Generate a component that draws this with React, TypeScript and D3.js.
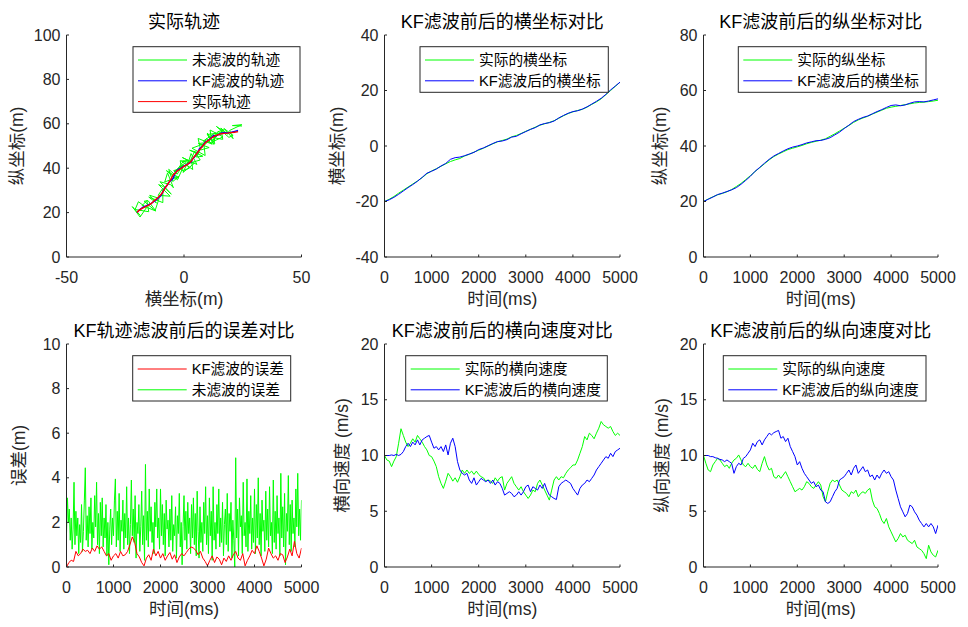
import React from 'react';
import * as d3 from 'd3';

// ---------------- data ----------------
const timeTicks = [0, 1000, 2000, 3000, 4000, 5000];

// positions sampled every 100 ms
const actualX = [-20, -19.2, -18.2, -17.0, -15.9, -14.8, -13.7, -12.6, -11.4, -10.0, -9.0, -8.2, -7.3, -6.4, -5.6, -5.0, -4.5, -3.6, -3.0, -2.2, -1.5, -0.8, 0.0, 0.8, 1.5, 2.0, 2.5, 3.3, 3.8, 4.5, 5.3, 6.0, 6.8, 7.5, 8.0, 8.5, 9.1, 10.0, 10.9, 11.7, 12.3, 12.8, 13.2, 14.0, 15.0, 15.9, 17.0, 18.5, 20.0, 21.5, 23.0];
const kfX = [-20, -19.4, -18.5, -17.4, -16.2, -15.0, -13.9, -12.7, -11.3, -9.8, -9.1, -8.3, -7.2, -6.3, -4.8, -4.2, -4.0, -3.5, -2.9, -2.3, -1.3, -0.7, 0.1, 0.9, 1.6, 1.8, 2.3, 3.2, 3.5, 4.4, 5.2, 6.0, 6.6, 7.6, 8.1, 8.4, 9.0, 10.1, 11.0, 11.8, 12.4, 12.7, 13.3, 14.1, 15.1, 16.1, 17.2, 18.6, 20.2, 21.6, 23.0];
const actualY = [20.0, 20.9, 21.7, 22.4, 22.9, 23.5, 24.3, 25.4, 26.5, 27.9, 29.3, 30.8, 32.2, 33.6, 35.0, 36.2, 37.1, 37.9, 38.7, 39.2, 39.7, 40.2, 40.8, 41.3, 41.7, 42.1, 42.6, 43.5, 44.4, 45.4, 46.4, 47.4, 48.5, 49.4, 50.1, 50.7, 51.5, 52.2, 52.9, 53.6, 54.0, 54.3, 54.6, 54.9, 55.2, 55.5, 55.7, 55.8, 56.0, 56.2, 56.5];
const kfY = [20.0, 20.8, 21.6, 22.5, 23.0, 23.6, 24.2, 25.0, 26.2, 27.6, 29.1, 30.9, 32.3, 33.8, 35.2, 36.4, 37.3, 38.2, 39.0, 39.6, 40.0, 40.5, 41.1, 41.5, 41.9, 42.0, 42.4, 43.0, 44.0, 45.0, 46.3, 47.5, 48.8, 49.6, 50.3, 50.8, 51.6, 52.4, 53.1, 53.9, 54.6, 54.8, 54.5, 54.8, 55.4, 55.9, 56.0, 55.9, 56.2, 56.6, 57.0];

// noisy measurements sampled every 50 ms
const measX = [-18.5, -22.0, -18.7, -16.0, -19.4, -20.8, -15.0, -15.8, -17.8, -12.0, -15.3, -17.0, -12.3, -10.6, -14.6, -11.7, -15.0, -9.0, -9.0, -11.0, -5.9, -10.8, -8.9, -5.4, -10.2, -5.7, -4.5, -7.0, -8.2, -2.1, -4.8, -6.5, -2.3, -7.5, -2.8, -0.4, -4.4, -2.9, -0.2, -4.2, 0.0, -4.2, -0.1, 2.3, -0.9, -1.6, 4.4, -0.4, 2.0, -1.0, 3.7, 3.3, -0.7, 5.5, 3.0, 1.7, 6.9, 4.5, 2.3, 6.3, 2.4, 8.0, 5.3, 7.9, 3.4, 9.0, 8.4, 6.1, 10.7, 7.1, 6.0, 12.0, 9.6, 7.5, 11.2, 9.9, 13.1, 8.2, 13.4, 12.7, 9.9, 15.4, 11.8, 11.1, 16.6, 12.1, 14.3, 17.1, 12.3, 16.5, 15.7, 18.5, 13.8, 19.1, 20.9, 17.0, 20.9, 19.4, 24.6, 20.6, 24.7];
const measY = [18.6, 22.7, 18.0, 22.2, 24.9, 21.4, 20.4, 25.4, 23.2, 20.7, 25.4, 25.1, 20.9, 26.4, 27.8, 24.3, 27.0, 24.5, 31.0, 27.8, 27.4, 32.6, 31.8, 28.3, 33.9, 32.6, 31.2, 37.9, 33.8, 36.3, 34.0, 39.5, 35.6, 38.9, 34.8, 40.3, 38.9, 37.3, 41.9, 38.4, 41.2, 37.4, 43.4, 40.0, 38.8, 43.4, 42.2, 38.1, 43.6, 43.1, 39.4, 42.7, 44.8, 41.7, 46.6, 42.1, 43.7, 47.5, 42.5, 46.9, 48.1, 45.4, 45.0, 50.8, 49.0, 45.7, 51.4, 51.1, 49.3, 48.2, 53.4, 50.8, 53.4, 49.3, 52.9, 55.8, 51.2, 52.2, 56.0, 50.7, 55.2, 55.9, 52.3, 57.2, 54.1, 51.9, 56.4, 57.3, 53.8, 53.0, 58.1, 55.4, 58.8, 53.9, 54.8, 57.9, 53.3, 57.0, 59.6, 59.2, 59.0];

// velocities sampled every 50 ms
const vxActual = [10.0, 9.6, 9.5, 9.0, 9.5, 9.9, 11.1, 12.4, 11.8, 11.2, 10.8, 11.1, 11.5, 11.2, 11.8, 11.5, 11.2, 10.8, 10.5, 10.0, 9.9, 9.5, 9.0, 8.1, 7.5, 7.05, 7.7, 8.4, 8.1, 7.7, 8.0, 7.6, 8.1, 8.7, 8.4, 8.7, 8.4, 8.6, 8.3, 8.6, 8.3, 8.1, 8.0, 7.7, 7.8, 7.7, 7.5, 8.0, 7.7, 8.0, 8.1, 6.9, 7.5, 7.8, 8.1, 7.5, 7.2, 6.9, 7.2, 6.75, 6.45, 6.15, 6.45, 6.9, 6.75, 7.5, 7.8, 7.35, 6.9, 6.45, 6.0, 6.9, 7.8, 8.1, 7.8, 8.1, 8.0, 8.4, 8.7, 8.9, 9.15, 9.15, 9.6, 10.2, 10.8, 11.7, 11.4, 12.0, 11.8, 11.5, 12.0, 12.45, 13.05, 12.75, 12.6, 12.45, 12.6, 12.15, 11.8, 12.0, 11.8];
const vxKF = [10.0, 10.0, 10.0, 10.05, 10.0, 10.1, 10.0, 10.1, 10.35, 10.8, 11.1, 10.8, 11.2, 10.95, 11.4, 10.95, 11.4, 11.55, 11.7, 11.8, 11.2, 10.65, 10.8, 10.5, 10.8, 10.35, 10.95, 10.05, 11.1, 11.55, 10.8, 9.45, 8.7, 8.4, 8.25, 8.4, 7.8, 7.5, 8.0, 7.35, 7.65, 7.95, 7.8, 7.65, 7.8, 7.5, 7.8, 7.35, 7.65, 7.5, 7.05, 6.45, 6.6, 6.75, 6.6, 6.3, 6.45, 6.75, 6.45, 6.75, 7.2, 7.35, 6.75, 7.2, 7.05, 6.9, 7.35, 7.05, 7.5, 6.9, 6.45, 6.3, 6.15, 6.05, 7.2, 7.5, 7.65, 7.8, 7.65, 7.5, 7.05, 6.75, 6.45, 7.05, 7.35, 7.5, 7.8, 7.65, 7.95, 8.25, 8.7, 9.0, 9.3, 9.6, 9.9, 9.75, 10.2, 9.9, 10.35, 10.5, 10.65];
const vyActual = [10.0, 9.3, 8.7, 8.55, 9.15, 9.45, 9.75, 9.6, 9.3, 9.0, 9.15, 8.85, 9.3, 9.6, 9.75, 10.05, 9.6, 9.15, 9.0, 9.3, 9.0, 8.85, 9.15, 8.75, 8.55, 9.3, 9.9, 9.15, 8.7, 8.85, 8.1, 7.95, 8.25, 7.95, 8.25, 8.55, 8.1, 7.65, 7.2, 6.75, 6.9, 7.05, 6.9, 7.2, 7.65, 7.5, 7.2, 7.05, 7.35, 7.65, 7.35, 6.3, 5.85, 6.75, 7.5, 7.8, 7.65, 7.8, 7.35, 6.9, 6.75, 6.6, 6.3, 6.75, 6.6, 6.9, 6.3, 6.6, 6.75, 6.6, 6.9, 7.05, 6.0, 5.4, 5.25, 4.8, 4.2, 3.9, 4.35, 3.6, 3.15, 2.7, 2.25, 2.55, 3.0, 2.7, 2.85, 2.4, 2.25, 2.1, 2.4, 1.8, 1.65, 1.5, 1.2, 0.75, 1.95, 1.35, 1.05, 0.9, 1.5];
const vyKF = [10.0, 10.0, 10.0, 9.9, 9.9, 9.8, 9.75, 9.65, 9.6, 9.45, 9.6, 9.45, 9.3, 8.4, 9.0, 9.3, 9.15, 9.75, 9.9, 10.2, 10.5, 11.1, 10.8, 11.25, 11.4, 10.95, 11.4, 11.7, 12.0, 11.85, 12.05, 12.15, 12.25, 11.55, 11.7, 11.25, 11.55, 10.8, 10.35, 9.9, 9.15, 9.45, 8.85, 8.4, 8.1, 7.8, 7.5, 7.65, 7.2, 7.35, 6.9, 6.75, 5.85, 5.7, 5.85, 6.3, 6.75, 7.05, 7.8, 7.95, 8.1, 8.4, 8.7, 8.25, 8.85, 9.15, 8.4, 8.7, 9.0, 8.55, 8.7, 8.1, 8.25, 7.8, 8.25, 7.95, 8.4, 8.7, 8.4, 8.55, 8.1, 7.8, 6.9, 6.15, 5.4, 4.95, 4.5, 4.8, 5.55, 5.4, 4.95, 4.65, 4.2, 3.9, 3.6, 3.9, 3.6, 3.9, 3.6, 3.0, 3.75];

// errors: raw every 20 ms, KF every 50 ms
const errRaw = [
  1.5, 3.1, 2.0, 2.6, 1.2, 2.2, 0.8, 1.7, 3.8, 1.0,
  2.5, 1.4, 2.2, 0.6, 1.9, 1.1, 2.8, 0.7, 1.6, 3.0,
  4.45, 1.2, 2.3, 0.9, 2.7, 1.5, 3.1, 0.8, 2.0, 1.3,
  3.2, 1.8, 3.8, 1.0, 2.4, 0.6, 2.9, 1.4, 3.1, 0.9,
  2.2, 1.3, 2.8, 0.5, 2.0, 0.1, 1.7, 2.6, 1.0, 2.2,
  1.4, 3.0, 3.95, 0.9, 2.5, 1.2, 3.3, 0.7, 2.1, 1.6,
  3.0, 0.8, 2.4, 1.3, 3.6, 1.0, 2.2, 0.6, 1.9, 3.9,
  1.4, 2.6, 1.1, 3.2, 0.4, 2.0, 1.5, 2.8, 0.7, 1.8,
  3.4, 1.0, 2.3, 0.3, 4.6, 1.2, 2.5, 0.9, 3.5, 1.6,
  2.7, 1.1, 2.0, 0.6, 2.9, 1.8, 3.5, 1.3, 2.2, 0.8,
  3.5, 1.4, 2.8, 1.0, 2.4, 0.5, 3.0, 1.7, 2.1, 0.9,
  2.6, 1.2, 3.2, 0.7, 1.9, 1.4, 2.7, 0.4, 2.3, 1.5,
  3.3, 0.9, 2.0, 0.1, 1.8, 3.2, 1.2, 2.5, 0.8, 2.9,
  1.5, 2.2, 0.6, 2.8, 1.3, 3.1, 1.0, 2.4, 0.5, 3.4,
  1.6, 0.4, 2.7, 1.1, 2.0, 0.7, 2.9, 1.5, 3.6, 1.0,
  2.3, 0.6, 3.1, 1.4, 2.5, 0.3, 3.6, 1.2, 2.0, 0.8,
  2.8, 1.5, 3.5, 0.9, 2.2, 1.1, 2.9, 0.5, 1.9, 2.6,
  1.0, 3.3, 0.7, 2.4, 1.6, 2.9, 0.4, 2.1, 1.2, 0.0,
  4.9, 1.3, 2.6, 0.5, 3.1, 1.8, 2.3, 0.6, 3.8, 1.4,
  2.0, 0.9, 3.95, 0.7, 2.5, 1.5, 3.2, 0.8, 2.2, 1.1,
  3.5, 0.6, 2.8, 1.3, 4.0, 1.0, 2.4, 0.5, 3.0, 1.6,
  2.1, 0.7, 3.4, 1.2, 2.6, 0.9, 3.6, 1.4, 2.0, 0.6,
  3.9, 1.1, 2.5, 0.8, 3.2, 1.5, 2.2, 0.5, 4.2, 1.3,
  2.7, 0.9, 3.3, 0.1, 2.4, 1.6, 4.1, 1.0, 2.8, 0.7,
  3.0, 1.5, 2.2, 0.9, 3.5, 1.8, 4.2, 1.4, 2.6, 1.2,
  3.0];
const errKF = [0.0, 0.2, 0.3, 0.25, 0.7, 0.5, 0.6, 0.8, 0.7, 0.75, 0.6, 0.85, 0.7, 0.95, 0.8, 0.9, 0.7, 0.5, 0.6, 0.3, 0.5, 0.6, 0.4, 0.7, 0.5, 0.55, 0.7, 1.0, 1.35, 1.1, 0.6, 0.45, 0.2, 0.05, 0.4, 0.55, 0.3, 0.8, 0.5, 0.7, 0.4, 0.6, 0.3, 0.5, 0.65, 0.35, 0.55, 0.2, 0.45, 0.6, 0.5, 0.65, 0.8, 0.9, 0.85, 0.75, 0.55, 0.7, 0.4, 0.25, 0.05, 0.3, 0.5, 0.2, 0.45, 0.35, 0.1, 0.4, 0.25, 0.5, 0.3, 0.55, 0.7, 0.4, 0.3, 0.6, 0.05, 0.3, 0.5, 0.75, 0.6, 0.95, 0.7, 0.4, 0.05, 0.35, 0.85, 0.6, 0.4, 0.5, 0.3, 0.6, 0.55, 0.2, 0.45, 0.8, 0.5, 1.15, 0.6, 0.4, 0.85];

// ---------------- layout ----------------
const FONT = '"Liberation Sans", Arial, "Noto Sans CJK SC", sans-serif';
const AX = '#262626';
const GREEN = '#00ff00';
const BLUE = '#0000ff';
const RED = '#ff0000';
const cols = [[66.5, 301.5], [384.5, 620], [703.5, 938]];
const rows = [[35, 257], [344, 567]];

type Series = { xs: number[]; ys: number[]; color: string; width?: number };
type Panel = {
  col: number; row: number; title: string; xLabel: string; yLabel: string; yLabelOff: number;
  xDomain: [number, number]; yDomain: [number, number]; xTicks: number[]; yTicks: number[];
  series: Series[]; legend: { left: number; top: number; w: number; h: number; items: { label: string; color: string }[] };
};

const tAt = (n: number, step: number) => d3.range(n).map((i) => i * step);

function PanelView({ p }: { p: Panel }) {
  const [x0, x1] = cols[p.col];
  const [y0, y1] = rows[p.row];
  const xs = d3.scaleLinear().domain(p.xDomain).range([x0, x1]);
  const ys = d3.scaleLinear().domain(p.yDomain).range([y1, y0]);
  const line = d3.line<[number, number]>().x((d) => xs(d[0])).y((d) => ys(d[1]));
  const clipId = `clip-${p.col}-${p.row}`;
  const L = p.legend;
  return (
    <g>
      <defs>
        <clipPath id={clipId}><rect x={x0} y={y0} width={x1 - x0} height={y1 - y0} /></clipPath>
      </defs>
      <g clipPath={`url(#${clipId})`}>
        {p.series.map((s, i) => (
          <path key={i} d={line(s.xs.map((v, j) => [v, s.ys[j]] as [number, number])) || ''} fill="none" stroke={s.color} strokeWidth={s.width ?? 1} strokeLinejoin="round" />
        ))}
      </g>
      {/* axes */}
      <line x1={x0} x2={x1} y1={y1} y2={y1} stroke={AX} strokeWidth={1} />
      <line x1={x0} x2={x0} y1={y0} y2={y1} stroke={AX} strokeWidth={1} />
      {p.xTicks.map((t) => (
        <g key={'x' + t}>
          <line x1={xs(t)} x2={xs(t)} y1={y1} y2={y1 - 2.5} stroke={AX} strokeWidth={1} />
          <text x={xs(t)} y={y1 + 20} textAnchor="middle" dominantBaseline="central" fontSize={16} fill={AX}>{t}</text>
        </g>
      ))}
      {p.yTicks.map((t) => (
        <g key={'y' + t}>
          <line x1={x0} x2={x0 + 2.5} y1={ys(t)} y2={ys(t)} stroke={AX} strokeWidth={1} />
          <text x={x0 - 6} y={ys(t)} textAnchor="end" dominantBaseline="central" fontSize={16} fill={AX}>{t}</text>
        </g>
      ))}
      <text x={(x0 + x1) / 2} y={y0 - 13} textAnchor="middle" dominantBaseline="central" fontSize={18} fill="#000">{p.title}</text>
      <text x={(x0 + x1) / 2} y={y1 + 42} textAnchor="middle" dominantBaseline="central" fontSize={17.5} fill={AX}>{p.xLabel}</text>
      <text transform={`translate(${x0 - p.yLabelOff},${(y0 + y1) / 2}) rotate(-90)`} textAnchor="middle" dominantBaseline="central" fontSize={17.5} fill={AX}>{p.yLabel}</text>
      {/* legend */}
      <rect x={L.left} y={L.top} width={L.w} height={L.h} fill="#fff" stroke={AX} strokeWidth={1} />
      {L.items.map((it, i) => {
        const cy = L.top + 13.3 + i * 20.8;
        return (
          <g key={i}>
            <line x1={L.left + 5} x2={L.left + 54} y1={cy} y2={cy} stroke={it.color} strokeWidth={1} />
            <text x={L.left + 59} y={cy} dominantBaseline="central" fontSize={14.7} fill="#000">{it.label}</text>
          </g>
        );
      })}
    </g>
  );
}

export default function App() {
  const t100 = tAt(actualX.length, 100);
  const t50 = tAt(vxActual.length, 50);
  const t20 = tAt(errRaw.length, 20);
  const tErr = tAt(errKF.length, 50);
  const panels: Panel[] = [
    {
      col: 0, row: 0, title: '实际轨迹', xLabel: '横坐标(m)', yLabel: '纵坐标(m)', yLabelOff: 50,
      xDomain: [-50, 50], yDomain: [0, 100], xTicks: [-50, 0, 50], yTicks: [0, 20, 40, 60, 80, 100],
      series: [
        { xs: measX, ys: measY, color: GREEN },
        { xs: kfX, ys: kfY, color: BLUE, width: 1.4 },
        { xs: actualX, ys: actualY, color: RED, width: 1.4 },
      ],
      legend: { left: 133, top: 46.7, w: 167, h: 65.6, items: [
        { label: '未滤波的轨迹', color: GREEN }, { label: 'KF滤波的轨迹', color: BLUE }, { label: '实际轨迹', color: RED }] },
    },
    {
      col: 1, row: 0, title: 'KF滤波前后的横坐标对比', xLabel: '时间(ms)', yLabel: '横坐标(m)', yLabelOff: 48,
      xDomain: [0, 5000], yDomain: [-40, 40], xTicks: timeTicks, yTicks: [-40, -20, 0, 20, 40],
      series: [{ xs: t100, ys: actualX, color: GREEN }, { xs: t100, ys: kfX, color: BLUE }],
      legend: { left: 420, top: 46.7, w: 188.3, h: 45.6, items: [
        { label: '实际的横坐标', color: GREEN }, { label: 'KF滤波后的横坐标', color: BLUE }] },
    },
    {
      col: 2, row: 0, title: 'KF滤波前后的纵坐标对比', xLabel: '时间(ms)', yLabel: '纵坐标(m)', yLabelOff: 43.5,
      xDomain: [0, 5000], yDomain: [0, 80], xTicks: timeTicks, yTicks: [0, 20, 40, 60, 80],
      series: [{ xs: t100, ys: actualY, color: GREEN }, { xs: t100, ys: kfY, color: BLUE }],
      legend: { left: 738.3, top: 46.7, w: 187.7, h: 45.6, items: [
        { label: '实际的纵坐标', color: GREEN }, { label: 'KF滤波后的横坐标', color: BLUE }] },
    },
    {
      col: 0, row: 1, title: 'KF轨迹滤波前后的误差对比', xLabel: '时间(ms)', yLabel: '误差(m)', yLabelOff: 48,
      xDomain: [0, 5000], yDomain: [0, 10], xTicks: timeTicks, yTicks: [0, 2, 4, 6, 8, 10],
      series: [{ xs: t20, ys: errRaw, color: GREEN }, { xs: tErr, ys: errKF, color: RED }],
      legend: { left: 132.7, top: 355.7, w: 158, h: 45.3, items: [
        { label: 'KF滤波的误差', color: RED }, { label: '未滤波的误差', color: GREEN }] },
    },
    {
      col: 1, row: 1, title: 'KF滤波前后的横向速度对比', xLabel: '时间(ms)', yLabel: '横向速度 (m/s)', yLabelOff: 43,
      xDomain: [0, 5000], yDomain: [0, 20], xTicks: timeTicks, yTicks: [0, 5, 10, 15, 20],
      series: [{ xs: t50, ys: vxActual, color: GREEN }, { xs: t50, ys: vxKF, color: BLUE }],
      legend: { left: 405.7, top: 355.7, w: 201.6, h: 45.3, items: [
        { label: '实际的横向速度', color: GREEN }, { label: 'KF滤波后的横向速度', color: BLUE }] },
    },
    {
      col: 2, row: 1, title: 'KF滤波前后的纵向速度对比', xLabel: '时间(ms)', yLabel: '纵向速度 (m/s)', yLabelOff: 42,
      xDomain: [0, 5000], yDomain: [0, 20], xTicks: timeTicks, yTicks: [0, 5, 10, 15, 20],
      series: [{ xs: t50, ys: vyActual, color: GREEN }, { xs: t50, ys: vyKF, color: BLUE }],
      legend: { left: 723.3, top: 355.7, w: 202.7, h: 45.3, items: [
        { label: '实际的纵向速度', color: GREEN }, { label: 'KF滤波后的纵向速度', color: BLUE }] },
    },
  ];
  return (
    <svg width={968} height={627} style={{ position: 'absolute', left: 0, top: 0, background: '#fff' }} fontFamily={FONT}>
      <rect x={0} y={0} width={968} height={627} fill="#fff" />
      {panels.map((p, i) => <PanelView key={i} p={p} />)}
    </svg>
  );
}
